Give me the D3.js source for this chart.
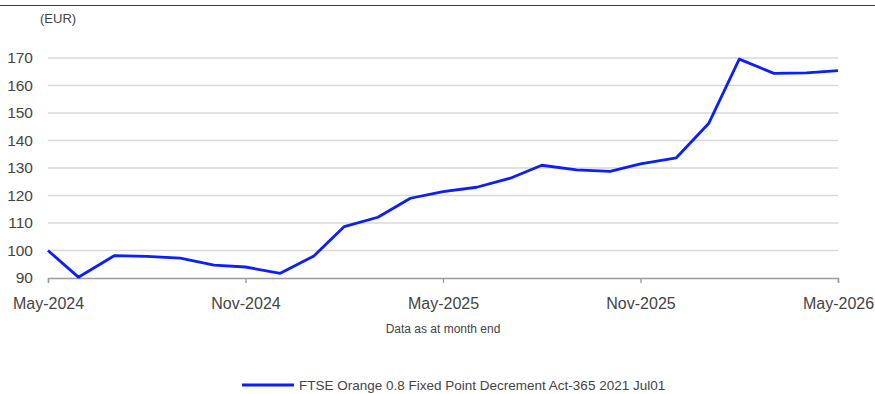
<!DOCTYPE html>
<html>
<head>
<meta charset="utf-8">
<script src="https://cdn.jsdelivr.net/npm/d3@7"></script>
<style>
  html, body { margin: 0; padding: 0; background: #fff; }
  svg { display: block; font-family: "Liberation Sans", Arial, sans-serif; }
</style>
</head>
<body>
<svg id="chart" width="875" height="394"></svg>
<script>
// Month-end (last business day) observation dates
const dates = [
  "2024-05-31", "2024-06-28", "2024-07-31", "2024-08-30", "2024-09-30", "2024-10-31",
  "2024-11-29", "2024-12-31", "2025-01-31", "2025-02-28", "2025-03-31", "2025-04-30",
  "2025-05-30", "2025-06-30", "2025-07-31", "2025-08-29", "2025-09-30", "2025-10-31",
  "2025-11-28", "2025-12-31", "2026-01-30", "2026-02-27", "2026-03-31", "2026-04-30",
  "2026-05-29"
];
// Index level (EUR)
const values = [
  100.0, 90.3, 98.1, 97.9, 97.2, 94.7,
  94.0, 91.7, 98.0, 108.7, 112.1, 119.0,
  121.4, 123.0, 126.3, 131.0, 129.3, 128.8,
  131.5, 133.7, 146.3, 169.6, 164.4, 164.6,
  165.4
];
const yTicks = [90, 100, 110, 120, 130, 140, 150, 160, 170];
const xTickDates = ["2024-05-31", "2024-11-29", "2025-05-30", "2025-11-28", "2026-05-29"];
const seriesName = "FTSE Orange 0.8 Fixed Point Decrement Act-365 2021 Jul01";
const unitLabel = "(EUR)";
const footnote = "Data as at month end";

(function () {
  const parse = d3.utcParse("%Y-%m-%d");
  const data = dates.map((d, i) => ({ date: parse(d), value: values[i] }));

  const svg = d3.select("#chart");
  const W = 875;
  const plotLeft = 48, plotRight = 838, plotTop = 58, plotBottom = 278;

  const x = d3.scaleUtc()
    .domain([parse(dates[0]), parse(dates[dates.length - 1])])
    .range([plotLeft, plotRight]);
  const y = d3.scaleLinear().domain([90, 170]).range([plotBottom, plotTop]);

  // Header rule
  svg.append("line")
    .attr("x1", 0).attr("x2", W)
    .attr("y1", 5.5).attr("y2", 5.5)
    .attr("stroke", "#1b2fd6").attr("stroke-width", 1);

  // Unit label
  svg.append("text")
    .attr("x", 40).attr("y", 23)
    .attr("font-size", 13).attr("fill", "#444")
    .text(unitLabel);

  // Horizontal gridlines
  svg.append("g")
    .selectAll("line")
    .data(yTicks.filter(t => t !== 90))
    .join("line")
    .attr("x1", plotLeft).attr("x2", plotRight)
    .attr("y1", d => y(d)).attr("y2", d => y(d))
    .attr("stroke", "#d9d9d9").attr("stroke-width", 1.3);

  // Y axis labels
  const yAxis = d3.axisLeft(y).tickValues(yTicks).tickSize(0).tickPadding(15);
  const gy = svg.append("g").attr("transform", `translate(${plotLeft},0)`).call(yAxis);
  gy.select(".domain").remove();
  gy.selectAll("text")
    .attr("font-size", 15.5).attr("fill", "#444")
    .attr("font-family", "Liberation Sans, Arial, sans-serif");

  // X axis
  const fmt = d3.utcFormat("%b-%Y");
  const xAxis = d3.axisBottom(x)
    .tickValues(xTickDates.map(parse))
    .tickFormat(fmt)
    .tickSizeInner(5).tickSizeOuter(5).tickPadding(15);
  const gx = svg.append("g").attr("transform", `translate(0,${plotBottom})`).call(xAxis);
  gx.select(".domain").attr("stroke", "#9a9a9a").attr("stroke-width", 1.5);
  gx.selectAll(".tick line").attr("stroke", "#9a9a9a").attr("stroke-width", 1.3);
  gx.selectAll("text")
    .attr("font-size", 16).attr("fill", "#444")
    .attr("font-family", "Liberation Sans, Arial, sans-serif");

  // Series line
  const line = d3.line().x(d => x(d.date)).y(d => y(d.value));
  svg.append("path")
    .datum(data)
    .attr("d", line)
    .attr("fill", "none")
    .attr("stroke", "#0a1eff")
    .attr("stroke-width", 2.8)
    .attr("stroke-linejoin", "round");

  // Footnote
  svg.append("text")
    .attr("x", 443).attr("y", 333)
    .attr("text-anchor", "middle")
    .attr("font-size", 12).attr("fill", "#444")
    .text(footnote);

  // Legend
  const legend = svg.append("g").attr("transform", "translate(242,385)");
  legend.append("line")
    .attr("x1", 0).attr("x2", 52).attr("y1", 0).attr("y2", 0)
    .attr("stroke", "#0a1eff").attr("stroke-width", 2.8);
  legend.append("text")
    .attr("x", 57).attr("y", 5)
    .attr("font-size", 13.5).attr("fill", "#444")
    .text(seriesName);
})();
</script>
</body>
</html>
